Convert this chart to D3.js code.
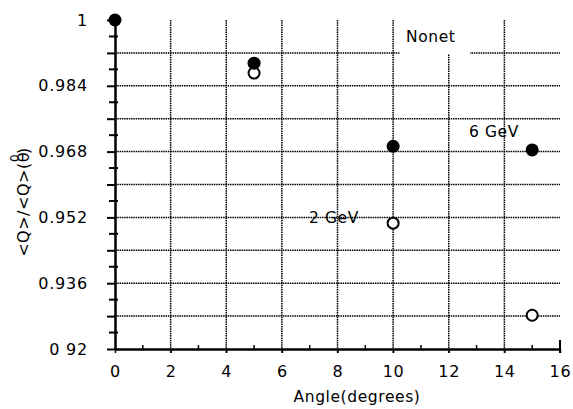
<!DOCTYPE html>
<html lang="en">
<head>
<meta charset="utf-8">
<title>Q ratio vs angle</title>
<script src="https://cdn.jsdelivr.net/npm/d3@7/dist/d3.min.js"></script>
<style>
  body { margin: 0; background: #fff; }
  text { font-family: "DejaVu Sans", sans-serif; fill: #000; }
</style>
</head>
<body>
<script>
// tick values and labels
var xTicks = [0, 2, 4, 6, 8, 10, 12, 14, 16];
var xMinor = [1, 3, 5, 7, 9, 11, 13, 15];
var yMajor = [0.92, 0.928, 0.936, 0.944, 0.952, 0.96, 0.968, 0.976, 0.984, 0.992, 1];
var yMinor = [0.924, 0.932, 0.94, 0.948, 0.956, 0.964, 0.972, 0.98, 0.988, 0.996];
var yLabelled = [0.92, 0.936, 0.952, 0.968, 0.984, 1];
var yLabels = ["0 92", "0.936", "0.952", "0.968", "0.984", "1"];

// data
var nonetAngle = [0, 5, 10, 15];
var nonetRatio = [1, 0.9895, 0.9693, 0.9684];
var lowAngle = [5, 10, 15];
var lowRatio = [0.9871, 0.9506, 0.9282];

var w = 573, h = 409;

var svg = d3.select("body").append("svg")
    .attr("width", w)
    .attr("height", h);

var x = d3.scaleLinear().domain([0, 16]).range([115, 560]);
var y = d3.scaleLinear().domain([0.92, 1]).range([349, 20]);

// dotted grid
var grid = svg.append("g")
    .attr("stroke", "#000")
    .attr("stroke-width", 1.5)
    .attr("stroke-dasharray", "1.5,0.8");

grid.selectAll("line.h")
    .data(yMajor.filter(function(d) { return d > 0.92 && d < 1; }))
    .enter().append("line")
    .attr("class", "h")
    .attr("x1", x(0)).attr("x2", x(16))
    .attr("y1", function(d) { return y(d); })
    .attr("y2", function(d) { return y(d); });

grid.selectAll("line.v")
    .data(xTicks.filter(function(d) { return d > 0 && d < 16; }))
    .enter().append("line")
    .attr("class", "v")
    .attr("x1", function(d) { return x(d); })
    .attr("x2", function(d) { return x(d); })
    .attr("y1", y(1)).attr("y2", y(0.92) + 4);

// white box behind the Nonet label
svg.append("rect")
    .attr("x", 400).attr("y", 16)
    .attr("width", 70).attr("height", 38)
    .attr("fill", "#fff");

// y axis
var yAxis = d3.axisLeft(y)
    .tickValues(yMajor)
    .tickSize(8)
    .tickSizeOuter(0)
    .tickPadding(19)
    .tickFormat(function(d) {
        var i = yLabelled.findIndex(function(v) { return Math.abs(v - d) < 1e-6; });
        return i >= 0 ? yLabels[i] : "";
    });

var gy = svg.append("g")
    .attr("transform", "translate(" + x(0) + ",0)")
    .call(yAxis);
gy.select(".domain").attr("stroke-width", 2.5);
gy.selectAll(".tick line").attr("stroke-width", 2);
gy.selectAll(".tick text")
    .style("font-size", "16px")
    .style("letter-spacing", "0.8px")
    .style("font-family", "DejaVu Sans, sans-serif");

gy.selectAll("line.minor")
    .data(yMinor)
    .enter().append("line")
    .attr("class", "minor")
    .attr("x1", -6).attr("x2", 3)
    .attr("y1", function(d) { return y(d); })
    .attr("y2", function(d) { return y(d); })
    .attr("stroke", "#000")
    .attr("stroke-width", 2);

// x axis
var xAxis = d3.axisBottom(x)
    .tickValues(xTicks)
    .tickSize(4)
    .tickSizeOuter(0)
    .tickPadding(13)
    .tickFormat(d3.format("d"));

var gx = svg.append("g")
    .attr("transform", "translate(0," + y(0.92) + ")")
    .call(xAxis);
gx.select(".domain").attr("stroke-width", 2.5);
gx.selectAll(".tick line").attr("stroke-width", 1.5);
gx.selectAll(".tick text")
    .style("font-size", "16px")
    .style("letter-spacing", "0.8px")
    .style("font-family", "DejaVu Sans, sans-serif");

gx.selectAll("line.minor")
    .data(xMinor)
    .enter().append("line")
    .attr("class", "minor")
    .attr("x1", function(d) { return x(d); })
    .attr("x2", function(d) { return x(d); })
    .attr("y1", -4).attr("y2", 0)
    .attr("stroke", "#000")
    .attr("stroke-width", 1.5);

// end tick at 16
gx.append("line")
    .attr("x1", x(16)).attr("x2", x(16))
    .attr("y1", -9).attr("y2", 4)
    .attr("stroke", "#000")
    .attr("stroke-width", 2);

// axis titles
svg.append("text")
    .attr("x", 357).attr("y", 402)
    .attr("text-anchor", "middle")
    .style("font-size", "15.5px")
    .style("letter-spacing", "0.6px")
    .text("Angle(degrees)");

var yt = svg.append("text")
    .attr("transform", "translate(29,202) rotate(-90)")
    .attr("text-anchor", "middle")
    .style("font-size", "16px")
    .style("letter-spacing", "0.5px");
yt.append("tspan").text("<Q>/<Q>(θ");
yt.append("tspan").attr("dx", -10).attr("dy", -10).style("font-size", "12px").text("0");
yt.append("tspan").attr("dy", 10).text(")");

// series labels
svg.append("text").attr("x", 406).attr("y", 42)
    .style("font-size", "15.5px").style("letter-spacing", "0.6px").text("Nonet");
svg.append("text").attr("x", 469).attr("y", 137)
    .style("font-size", "15.5px").style("letter-spacing", "0.6px").text("6 GeV");
svg.append("text").attr("x", 309).attr("y", 223)
    .style("font-size", "15.5px").style("letter-spacing", "0.6px").text("2 GeV");

// open circles (2 GeV)
svg.selectAll("circle.open")
    .data(lowAngle)
    .enter().append("circle")
    .attr("class", "open")
    .attr("cx", function(d) { return x(d); })
    .attr("cy", function(d, i) { return y(lowRatio[i]); })
    .attr("r", 5.5)
    .attr("fill", "#fff")
    .attr("stroke", "#000")
    .attr("stroke-width", 2);

// filled circles (Nonet / 6 GeV)
svg.selectAll("circle.filled")
    .data(nonetAngle)
    .enter().append("circle")
    .attr("class", "filled")
    .attr("cx", function(d) { return x(d); })
    .attr("cy", function(d, i) { return y(nonetRatio[i]); })
    .attr("r", 6.5)
    .attr("fill", "#000");
</script>
</body>
</html>
